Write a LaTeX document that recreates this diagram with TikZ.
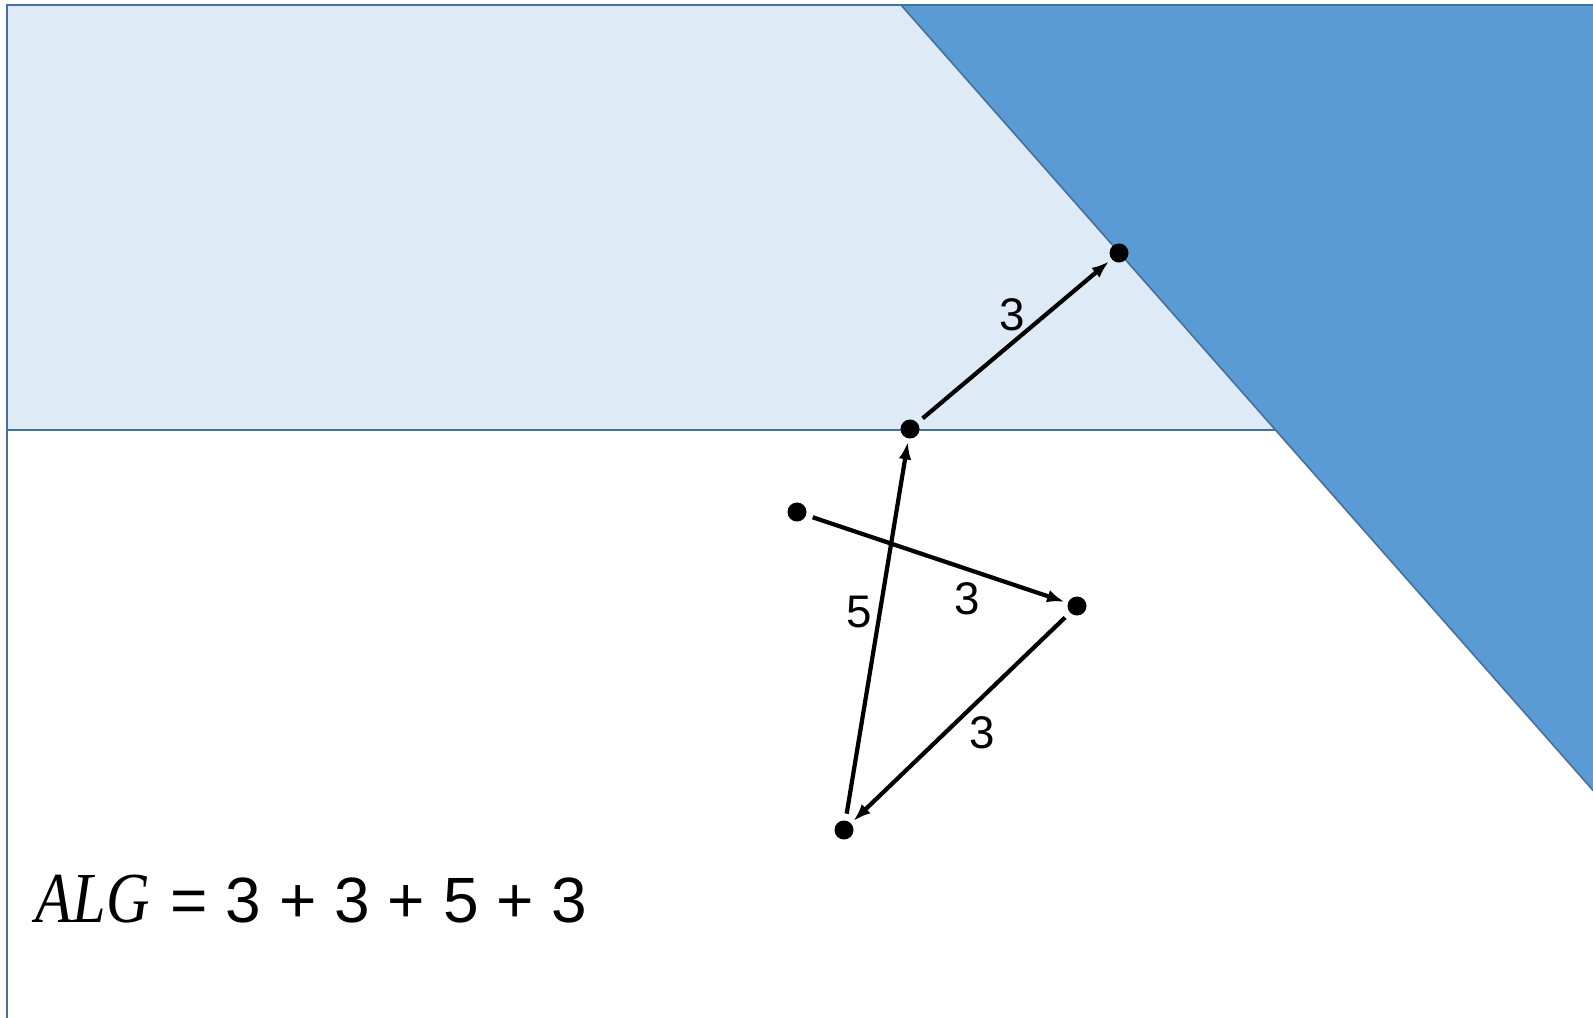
\documentclass[tikz,border=0pt]{standalone}
\usepackage{fontspec}
\setmainfont{Liberation Sans}
\newfontfamily\algfont{Liberation Serif}
\usetikzlibrary{arrows.meta}
\definecolor{pale}{HTML}{DEEBF7}
\definecolor{deep}{HTML}{5B9BD5}
\definecolor{rim}{HTML}{41719C}
\begin{document}
\begin{tikzpicture}[x=0.01cm,y=-0.01cm,every node/.style={font=\fontsize{13}{15}\selectfont},vtx/.style={circle,fill,inner sep=0pt,minimum size=0.19cm,outer sep=1pt},arr/.style={-{Latex[length=5pt,width=3.6pt]},line width=1.2pt,shorten <=1pt},lbl/.style={inner sep=0pt}]
\useasboundingbox (0,0) rectangle (1593,1018);
\clip (0,0) rectangle (1593,1018);
\draw[rim,line width=0.6pt,fill=white] (7,5) rectangle (1650,1060);
\draw[rim,line width=0.6pt,fill=pale] (7,5) rectangle (1650,430);
\draw[rim,line width=0.45pt,fill=deep] (901,5)--(1650,5)--(1650,855)--cycle;
\node[vtx] (a) at (797,512){};\node[vtx] (b) at (1077,606){};\node[vtx] (c) at (844,830){};\node[vtx] (d) at (910,429){};\node[vtx] (e) at (1119,253){};
\draw[arr] (a)--(b);\draw[arr] (b)--(c);\draw[arr] (c)--(d);\draw[arr] (d)--(e);
\node[lbl] (ab) at (967,599){3};\node[lbl] (bc) at (982,733){3};\node[lbl] (cd) at (859,612){5};\node[lbl] (de) at (1012,315){3};
\node[anchor=base west,inner sep=0pt,font=\fontsize{18.2}{22}\selectfont] (alg) at (35,922){\scalebox{0.84}[1]{\algfont\itshape\fontsize{20.4}{22}\selectfont ALG}\hspace{1pt} = 3 + 3 + 5 + 3};
\end{tikzpicture}
\end{document}
